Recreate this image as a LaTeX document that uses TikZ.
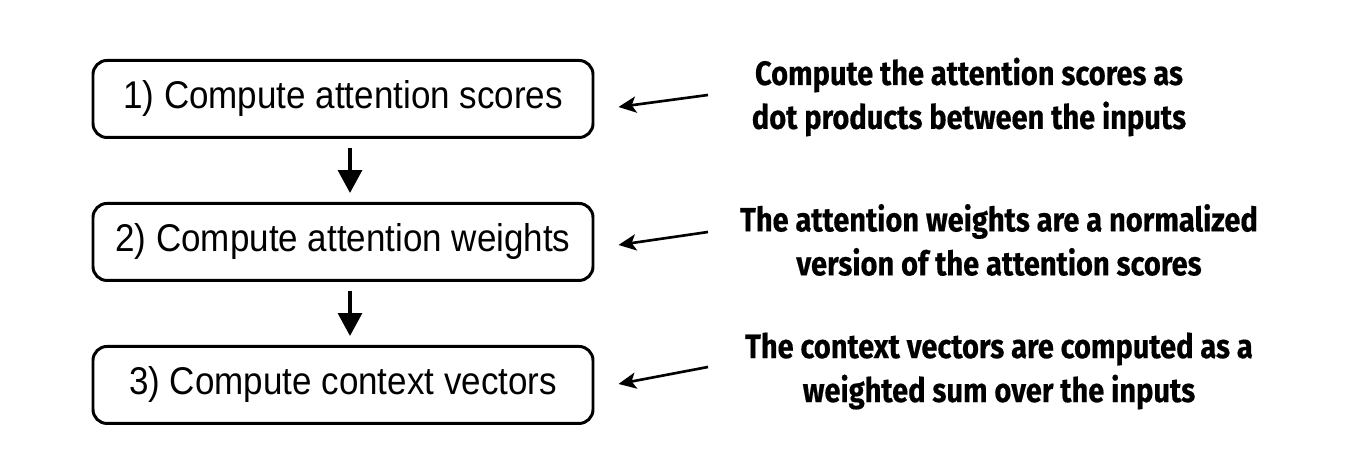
\documentclass[tikz,border=0pt]{standalone}
\usepackage{fontspec}
\setmainfont[FakeStretch=0.905]{Liberation Sans}
\newfontfamily\notefont[FakeStretch=0.86,BoldFeatures={FakeBold=0.4}]{Fira Sans}
\usepackage{tikz}
\usetikzlibrary{arrows.meta,positioning}

\tikzset{
  stepbox/.style={rectangle,rounded corners=0.14cm,draw,line width=0.85pt,
    minimum width=5cm,minimum height=0.77cm,
    font=\fontsize{11}{12}\selectfont},
  notetext/.style={align=center,font=\notefont\bfseries\fontsize{9.6}{12.5}\selectfont},
  flow/.style={line width=0.9pt,-{Triangle[length=6.5pt,width=6.8pt]}},
  pointer/.style={line width=0.75pt,-{Stealth[length=5pt,width=4.6pt,inset=1.2pt]}}
}

\begin{document}
\begin{tikzpicture}
    \useasboundingbox (0,0) rectangle (13.68,-4.66);

    % Steps
    \node[stepbox] (box1) at (3.43,-0.99) {1) Compute attention scores};
    \node[stepbox,below=0.63cm of box1] (box2) {2) Compute attention weights};
    \node[stepbox,below=0.63cm of box2] (box3) {3) Compute context vectors};

    \draw[flow,shorten <=0.09cm,shorten >=0.09cm] ([xshift=0.07cm]box1.south) -- ([xshift=0.07cm]box2.north);
    \draw[flow,shorten <=0.09cm,shorten >=0.09cm] ([xshift=0.07cm]box2.south) -- ([xshift=0.07cm]box3.north);

    % Notes
    \node[notetext] (note1) at (9.69,-0.97) {Compute the attention scores as\\dot products between the inputs};
    \node[notetext] (note2) at (9.99,-2.40) {The attention weights are a normalized\\version of the attention scores};
    \node[notetext] (note3) at (9.99,-3.71) {The context vectors are computed as a\\weighted sum over the inputs};

    \coordinate (t1) at (7.08,-0.95);
    \coordinate (t2) at (7.08,-2.32);
    \coordinate (t3) at (7.08,-3.67);
    \draw[pointer] (t1) -- ([xshift=0.24cm,yshift=-0.08cm]box1.east);
    \draw[pointer] (t2) -- ([xshift=0.24cm,yshift=-0.03cm]box2.east);
    \draw[pointer] (t3) -- ([xshift=0.24cm,yshift=0.01cm]box3.east);
\end{tikzpicture}
\end{document}
